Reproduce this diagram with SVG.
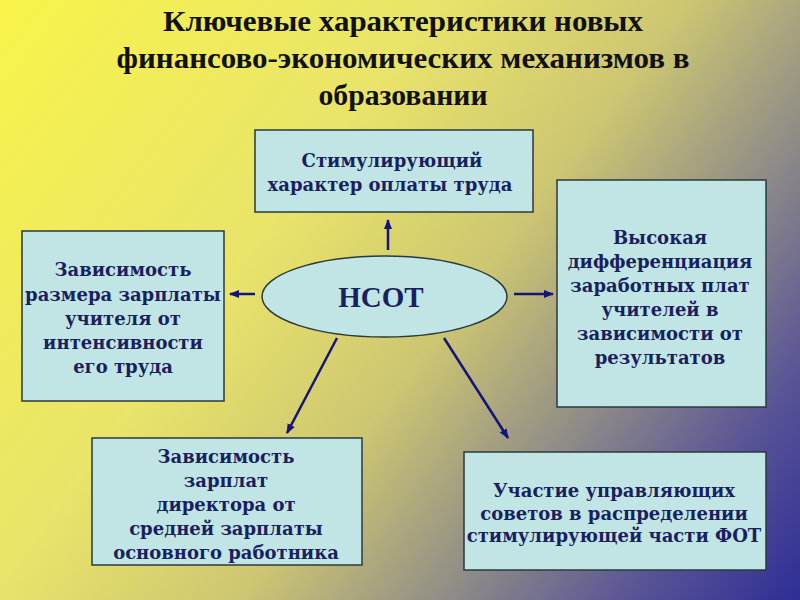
<svg xmlns="http://www.w3.org/2000/svg" width="800" height="600" viewBox="0 0 800 600">
<defs>
<linearGradient id="bg" x1="0" y1="0" x2="800" y2="600" gradientUnits="userSpaceOnUse">
<stop offset="0" stop-color="#f8f44a"/>
<stop offset="0.35" stop-color="#e9e46a"/>
<stop offset="0.55" stop-color="#cdc672"/>
<stop offset="0.72" stop-color="#8e8b88"/>
<stop offset="0.86" stop-color="#5a5596"/>
<stop offset="1" stop-color="#2e2e96"/>
</linearGradient>
<marker id="ah" viewBox="0 0 10 10" refX="9" refY="5" markerWidth="4" markerHeight="4" orient="auto" markerUnits="strokeWidth">
<path d="M0,1 L10,5 L0,9 z" fill="#14147a"/>
</marker>
<style>
.box{fill:#c1e5e5;stroke:#2a3a3a;stroke-width:1.5}
.t{font-family:"DejaVu Serif",serif;font-weight:bold;font-size:18px;fill:#1a1f5e;text-anchor:middle}
.title{font-family:"Liberation Serif","Times New Roman",serif;font-weight:bold;font-size:30px;fill:#111;text-anchor:middle}
.c{stroke:#14147a;stroke-width:2.5;fill:none;marker-end:url(#ah)}
</style>
</defs>
<rect width="800" height="600" fill="url(#bg)"/>
<g id="title">
<text class="title" x="403" y="31" textLength="480" lengthAdjust="spacingAndGlyphs">Ключевые характеристики новых</text>
<text class="title" x="403" y="68" textLength="573" lengthAdjust="spacingAndGlyphs">финансово-экономических механизмов в</text>
<text class="title" x="403" y="105" textLength="169" lengthAdjust="spacingAndGlyphs">образовании</text>
</g>
<g id="connectors">
<line class="c" x1="388" y1="250" x2="388" y2="220"/>
<line class="c" x1="255" y1="294" x2="230" y2="294"/>
<line class="c" x1="514" y1="294" x2="553" y2="294"/>
<line class="c" x1="337" y1="338" x2="287" y2="433"/>
<line class="c" x1="444" y1="338" x2="508" y2="438"/>
</g>
<g id="center">
<ellipse cx="384.5" cy="296.5" rx="122.5" ry="40.5" fill="#c1e5e5" stroke="#2a3a3a" stroke-width="1.5"/>
<text x="381" y="307" font-family="Liberation Serif, serif" font-weight="bold" font-size="29" fill="#1a1f5e" text-anchor="middle">НСОТ</text>
</g>
<g id="n-top">
<rect class="box" x="255" y="130" width="278" height="82"/>
<text class="t" x="392" y="167">Стимулирующий</text>
<text class="t" x="390" y="191">характер оплаты труда</text>
</g>
<g id="n-left">
<rect class="box" x="22" y="231" width="202" height="170"/>
<text class="t" x="123" y="276">Зависимость</text>
<text class="t" x="123" y="301">размера зарплаты</text>
<text class="t" x="123" y="325">учителя от</text>
<text class="t" x="123" y="349">интенсивности</text>
<text class="t" x="123" y="373">его труда</text>
</g>
<g id="n-right">
<rect class="box" x="557" y="180" width="209" height="227"/>
<text class="t" x="660" y="244">Высокая</text>
<text class="t" x="660" y="268">дифференциация</text>
<text class="t" x="660" y="292">заработных плат</text>
<text class="t" x="660" y="316">учителей в</text>
<text class="t" x="660" y="340">зависимости от</text>
<text class="t" x="660" y="364">результатов</text>
</g>
<g id="n-bottom-left">
<rect class="box" x="92" y="438" width="270" height="127"/>
<text class="t" x="226" y="463">Зависимость</text>
<text class="t" x="226" y="487">зарплат</text>
<text class="t" x="226" y="511">директора от</text>
<text class="t" x="226" y="535">средней зарплаты</text>
<text class="t" x="226" y="559">основного работника</text>
</g>
<g id="n-bottom-right">
<rect class="box" x="464" y="452" width="302" height="118"/>
<text class="t" x="614" y="497">Участие управляющих</text>
<text class="t" x="614" y="520">советов в распределении</text>
<text class="t" x="614" y="542">стимулирующей части ФОТ</text>
</g>
</svg>
